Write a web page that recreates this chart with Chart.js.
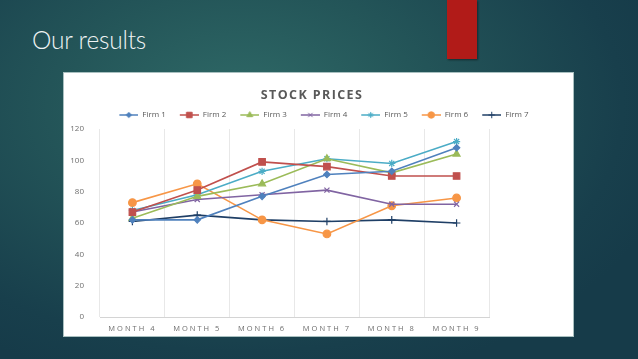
<!DOCTYPE html>
<html>
<head>
<meta charset="utf-8">
<script src="https://cdn.jsdelivr.net/npm/chart.js@4.4.1/dist/chart.umd.min.js"></script>
<style>
  html, body { margin: 0; padding: 0; }
  body {
    width: 638px; height: 359px; overflow: hidden; position: relative;
    background: radial-gradient(ellipse 70% 80% at 38% 30%, #2f6a67 0%, #245659 40%, #183f4c 85%, #163b49 100%);
  }
  #slideTitle {
    position: absolute; left: 32px; top: 25px;
    font-family: Lato, "Open Sans", sans-serif; font-weight: 300;
    font-size: 24.5px; color: #eef3f3; letter-spacing: -0.2px;
  }
  #redBar {
    position: absolute; left: 447px; top: 0; width: 30px; height: 59px;
    background: #b11b18; box-shadow: 1px 1px 2px rgba(0,0,0,0.45);
  }
  #panel {
    position: absolute; left: 64px; top: 73px; width: 509px; height: 263px;
    background: #fff; box-shadow: 0 0 0 1px #a9c0c0;
  }
  #panel canvas { display: block; }
</style>
</head>
<body>
<div id="slideTitle">Our results</div>
<div id="redBar"></div>
<div id="panel"><canvas id="linechart"></canvas></div>
<script>
// chart data
var months = ['MONTH 4', 'MONTH 5', 'MONTH 6', 'MONTH 7', 'MONTH 8', 'MONTH 9'];
var firmNames = ['Firm 1', 'Firm 2', 'Firm 3', 'Firm 4', 'Firm 5', 'Firm 6', 'Firm 7'];
var firm1 = [62, 62, 77, 91, 93, 108];
var firm2 = [67, 81, 99, 96, 90, 90];
var firm3 = [63, 77, 85, 101, 92, 104];
var firm4 = [67, 75, 78, 81, 72, 72];
var firm5 = [68, 78, 93, 101, 98, 112];
var firm6 = [73, 85, 62, 53, 71, 76];
var firm7 = [61, 65, 62, 61, 62, 60];
var yTicks = [0, 20, 40, 60, 80, 100, 120];

var colors = ['#4f81bd', '#c0504d', '#9bbb59', '#8064a2', '#4bacc6', '#f79646', '#1f3f66'];
var markers = ['rectRot', 'rect', 'triangle', 'crossRot', 'star', 'circle', 'cross'];
var radii = [3.2, 4.6, 4, 3.6, 3.6, 3.8, 3.8];

document.addEventListener('DOMContentLoaded', function () {
    createLineChart();
});

// little canvas with a line and a marker, used as legend symbol
function legendIcon(i) {
    var c = document.createElement('canvas');
    c.width = 30;
    c.height = 10;
    var g = c.getContext('2d');
    g.strokeStyle = colors[i];
    g.fillStyle = colors[i];
    g.lineWidth = 1.5;
    g.beginPath();
    g.moveTo(11, 5);
    g.lineTo(30, 5);
    g.stroke();
    g.lineWidth = 1;
    Chart.helpers.drawPoint(g, {
        pointStyle: markers[i], rotation: 0, radius: radii[i] * 0.85, borderWidth: 1
    }, 20.5, 5);
    return c;
}

function createLineChart() {
    var series = [firm1, firm2, firm3, firm4, firm5, firm6, firm7];
    var datasets = series.map(function (vals, i) {
        return {
            label: firmNames[i],
            data: vals,
            borderColor: colors[i],
            backgroundColor: colors[i],
            borderWidth: 1.6,
            pointStyle: markers[i],
            pointRadius: radii[i],
            pointHoverRadius: radii[i],
            pointBorderWidth: 1.2,
            pointBackgroundColor: colors[i],
            pointBorderColor: colors[i],
            tension: 0,
            fill: false
        };
    });

    // x tick labels and the chart title are letter-spaced in the original
    var spacedText = {
        id: 'spacedText',
        afterDatasetsDraw: function (chart) {
            chart.ctx.letterSpacing = '2px';
        },
        afterDraw: function (chart) {
            var ctx = chart.ctx;
            ctx.save();
            ctx.letterSpacing = '1.4px';
            ctx.font = 'bold 12.5px "Open Sans", sans-serif';
            ctx.fillStyle = '#595959';
            ctx.textAlign = 'center';
            ctx.textBaseline = 'middle';
            ctx.fillText('STOCK PRICES', 248, 22);
            ctx.restore();
            ctx.letterSpacing = '0px';
        }
    };

    var ctx = document.getElementById('linechart').getContext('2d');
    var chart = new Chart(ctx, {
        type: 'line',
        data: { labels: months, datasets: datasets },
        plugins: [spacedText],
        options: {
            responsive: true,
            maintainAspectRatio: false,
            animation: false,
            layout: { padding: { top: 35, left: 0, right: 0, bottom: 0 } },
            plugins: {
                tooltip: { enabled: false },
                title: { display: false },
                legend: {
                    display: true,
                    position: 'top',
                    labels: {
                        usePointStyle: true,
                        pointStyleWidth: 30,
                        padding: 3,
                        color: '#595959',
                        font: { family: '"Open Sans", sans-serif', size: 8 },
                        generateLabels: function (ch) {
                            return ch.data.datasets.map(function (ds, i) {
                                return {
                                    text: ds.label,
                                    fontColor: '#595959',
                                    pointStyle: legendIcon(i),
                                    hidden: false,
                                    datasetIndex: i,
                                    lineWidth: 0
                                };
                            });
                        }
                    }
                }
            },
            scales: {
                x: {
                    offset: true,
                    grid: { offset: true, color: '#e8e8e8', drawTicks: false },
                    border: { color: '#d4d4d4' },
                    ticks: {
                        z: 1,
                        padding: 7,
                        color: '#6e6e6e',
                        font: { family: '"Open Sans", sans-serif', size: 7.5 },
                        maxRotation: 0,
                        autoSkip: false
                    },
                    afterFit: function (s) { s.height = 19; }
                },
                y: {
                    min: 0,
                    max: 120,
                    afterBuildTicks: function (s) {
                        s.ticks = yTicks.map(function (v) { return { value: v }; });
                    },
                    grid: { display: false },
                    border: { display: false },
                    ticks: {
                        padding: 8,
                        color: '#6e6e6e',
                        font: { family: '"Open Sans", sans-serif', size: 8 }
                    },
                    afterFit: function (s) { s.width = 36; }
                },
                spacer: {
                    position: 'right',
                    display: true,
                    grid: { display: false },
                    border: { display: false },
                    ticks: { display: false },
                    afterFit: function (s) { s.width = 84; }
                }
            }
        }
    });
}
</script>
</body>
</html>
